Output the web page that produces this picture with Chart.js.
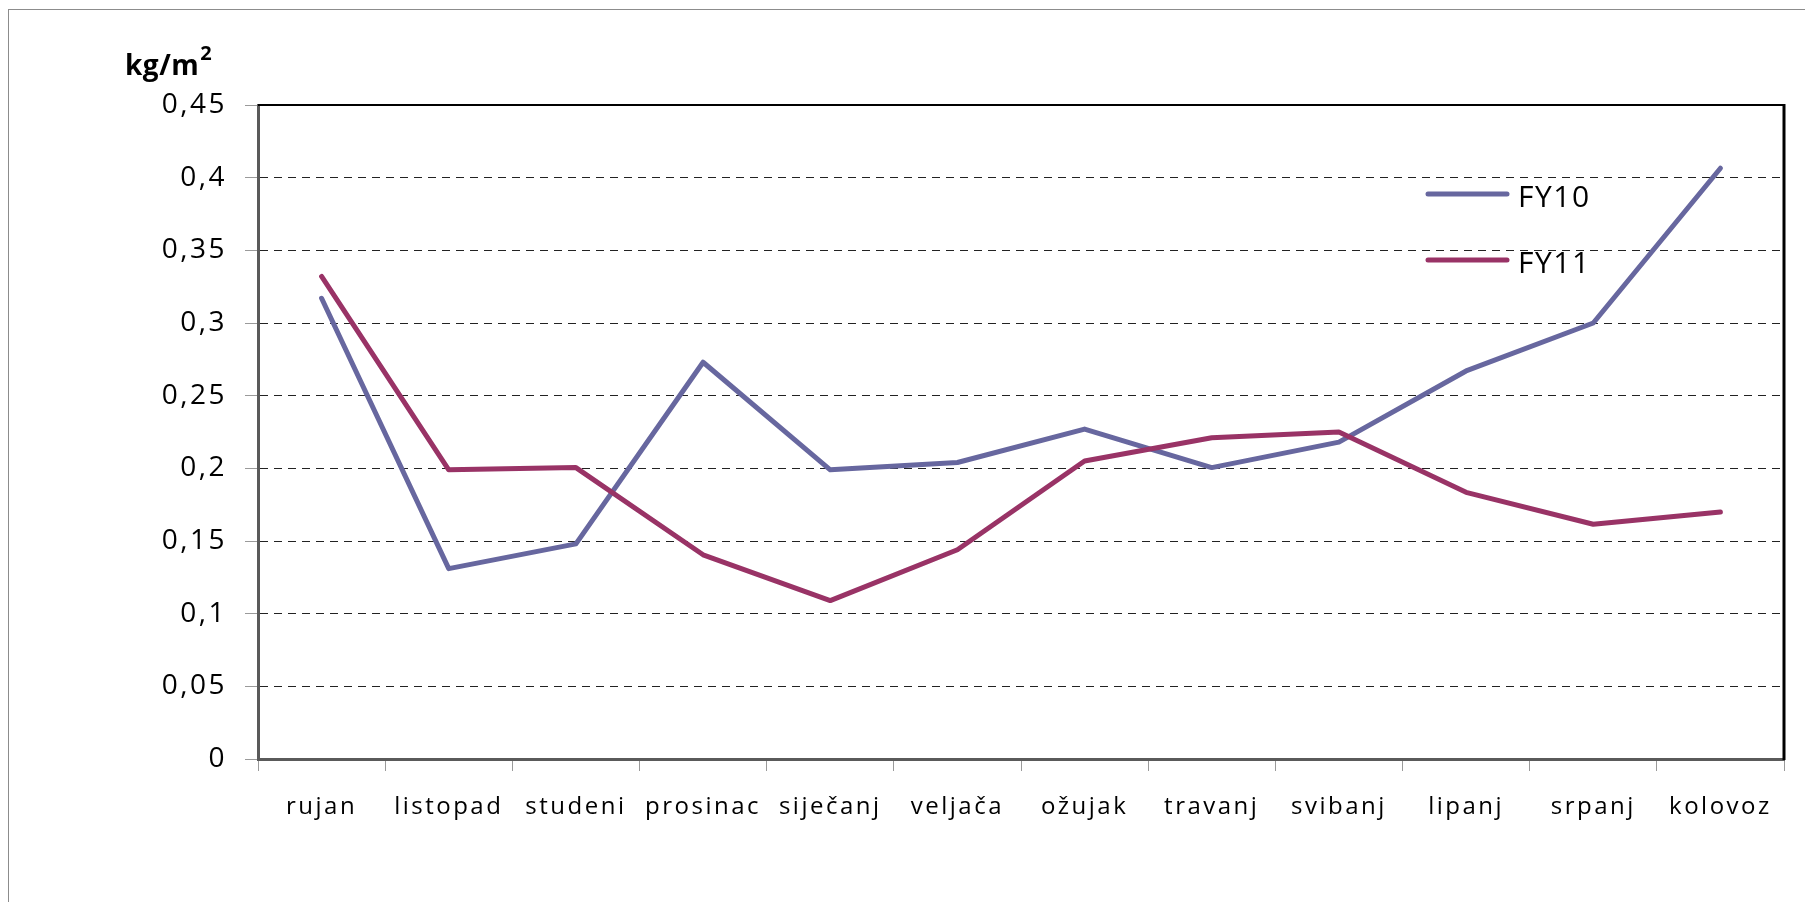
<!DOCTYPE html>
<html>
<head>
<meta charset="utf-8">
<script src="https://cdn.jsdelivr.net/npm/chart.js@4/dist/chart.umd.min.js"></script>
<style>
  html, body { margin: 0; padding: 0; background: #fff; }
  #wrap { position: relative; width: 1805px; height: 902px; overflow: hidden; }
  #frame { position: absolute; left: 8px; top: 9px; width: 2000px; height: 1200px; border: 1px solid #8c8c8c; }
  canvas { position: absolute; left: 0; top: 0; }
</style>
</head>
<body>
<div id="wrap">
  <div id="frame"></div>
  <canvas id="lineChart" width="1805" height="902"></canvas>
</div>
<script>
let months = ['rujan', 'listopad', 'studeni', 'prosinac', 'siječanj', 'veljača',
    'ožujak', 'travanj', 'svibanj', 'lipanj', 'srpanj', 'kolovoz'];
let fy10 = [0.317, 0.131, 0.148, 0.273, 0.199, 0.204, 0.227, 0.2005, 0.218, 0.267, 0.300, 0.4065];
let fy11 = [0.332, 0.199, 0.2005, 0.1405, 0.109, 0.144, 0.205, 0.221, 0.225, 0.1835, 0.1615, 0.170];
let yTicks = [0, 0.05, 0.1, 0.15, 0.2, 0.25, 0.3, 0.35, 0.4, 0.45];
let yTickLabels = ['0', '0,05', '0,1', '0,15', '0,2', '0,25', '0,3', '0,35', '0,4', '0,45'];

let fontFamily = '"Open Sans", sans-serif';

// extra bits Excel had: tracked text, closed plot box, legend inside, unit label
let excelLook = {
    id: 'excelLook',
    beforeDraw: function (chart) {
        chart.ctx.letterSpacing = '2.5px';
    },
    afterDraw: function (chart) {
        var ctx = chart.ctx;
        var area = chart.chartArea;
        ctx.save();
        ctx.letterSpacing = '0px';

        // top and right edge of the plot box
        ctx.strokeStyle = '#000';
        ctx.lineWidth = 2;
        ctx.beginPath();
        ctx.moveTo(area.left, area.top);
        ctx.lineTo(area.right, area.top);
        ctx.stroke();
        ctx.lineWidth = 3;
        ctx.beginPath();
        ctx.moveTo(area.right, area.top - 1);
        ctx.lineTo(area.right, area.bottom + 1);
        ctx.stroke();

        // legend
        ctx.lineCap = 'round';
        ctx.lineWidth = 5;
        ctx.font = '30px ' + fontFamily;
        ctx.letterSpacing = '1.5px';
        ctx.textAlign = 'left';
        ctx.textBaseline = 'alphabetic';
        chart.data.datasets.forEach(function (ds, i) {
            var y = 194 + i * 66;
            ctx.strokeStyle = ds.borderColor;
            ctx.beginPath();
            ctx.moveTo(1428, y);
            ctx.lineTo(1507, y);
            ctx.stroke();
            ctx.fillStyle = '#000';
            ctx.fillText(ds.label, 1518, y + 13);
        });

        // unit label
        ctx.letterSpacing = '0.5px';
        ctx.fillStyle = '#000';
        ctx.font = 'bold 28px ' + fontFamily;
        ctx.textAlign = 'left';
        ctx.fillText('kg/m', 125, 75);
        var w = ctx.measureText('kg/m').width;
        ctx.font = 'bold 20px ' + fontFamily;
        ctx.fillText('2', 125 + w + 1, 60);
        ctx.restore();
    }
};

let ctx = document.getElementById('lineChart').getContext('2d');
let myChart = new Chart(ctx, {
    type: 'line',
    data: {
        labels: months,
        datasets: [{
            label: 'FY10',
            data: fy10,
            borderColor: '#67679f',
            borderWidth: 5,
            order: 1
        }, {
            label: 'FY11',
            data: fy11,
            borderColor: '#993366',
            borderWidth: 5,
            order: 0
        }]
    },
    options: {
        responsive: false,
        animation: false,
        events: [],
        layout: {
            padding: { top: 105, right: 21, left: 0, bottom: 0 }
        },
        elements: {
            point: { radius: 0 },
            line: { tension: 0, borderCapStyle: 'round', borderJoinStyle: 'round' }
        },
        plugins: {
            legend: { display: false },
            tooltip: { enabled: false }
        },
        scales: {
            x: {
                offset: true,
                afterFit: function (scale) { scale.height = 143; },
                grid: {
                    offset: true,
                    drawOnChartArea: false,
                    drawTicks: true,
                    tickLength: 12,
                    tickColor: '#9a9a9a',
                    tickWidth: 1
                },
                border: { color: '#5a5a5a', width: 3 },
                ticks: {
                    color: '#000',
                    font: { family: fontFamily, size: 24 },
                    padding: 22,
                    maxRotation: 0,
                    autoSkip: false
                }
            },
            y: {
                min: 0,
                max: 0.45,
                afterFit: function (scale) { scale.width = 258; },
                afterBuildTicks: function (scale) {
                    scale.ticks = yTicks.map(function (v) { return { value: v }; });
                },
                grid: {
                    color: '#222',
                    lineWidth: 1,
                    drawTicks: true,
                    tickLength: 13,
                    tickColor: '#9a9a9a',
                    tickWidth: 1,
                    tickBorderDash: [1, 0]
                },
                border: { color: '#5a5a5a', width: 3, dash: [8, 6] },
                ticks: {
                    color: '#000',
                    font: { family: fontFamily, size: 28 },
                    padding: 18,
                    callback: function (value, index) { return yTickLabels[index]; }
                }
            }
        }
    },
    plugins: [excelLook]
});
</script>
</body>
</html>
